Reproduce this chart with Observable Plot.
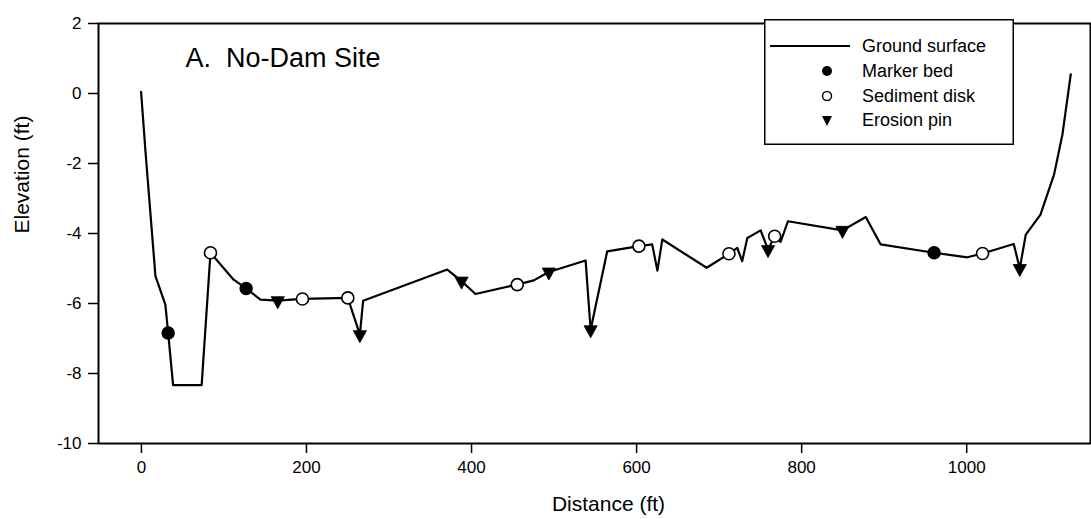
<!DOCTYPE html>
<html>
<head>
<meta charset="utf-8">
<script src="https://cdn.jsdelivr.net/npm/d3@7"></script>
<script src="https://cdn.jsdelivr.net/npm/@observablehq/plot@0.6"></script>
<style>
  html, body { margin: 0; padding: 0; background: #fff; }
  #wrap { position: relative; width: 1091px; height: 519px; font-family: "Liberation Sans", Arial, Helvetica, sans-serif; }
  #legend { position: absolute; left: 764px; top: 19px; }
</style>
</head>
<body>
<div id="wrap"></div>
<script>
// Ground surface profile (distance ft, elevation ft)
const groundDistance = [-0.4, 4.9, 17, 29, 32.4, 38.4, 73, 83.7, 111.7, 126.9, 144.2, 165.2, 195.1, 250.1, 264.7, 268.7,
  370.6, 387.9, 404.8, 455.4, 475.4, 493.7, 538.2, 544.3, 564.4, 602.8, 618.9, 625.2, 631.2, 684.9, 711.9, 722, 727.9, 734.2,
  750.3, 759.3, 767.3, 774.5, 783.4, 849.5, 877.7, 895.6, 960.5, 1000.9, 1019.2, 1057, 1064.3, 1071.6, 1089.4, 1105.9, 1116, 1126.1];
const groundElevation = [0.05, -1.65, -5.22, -6.03, -6.84, -8.33, -8.33, -4.55, -5.32, -5.57, -5.89, -5.92, -5.87, -5.84, -6.89, -5.92,
  -5.03, -5.36, -5.73, -5.46, -5.34, -5.1, -4.77, -6.75, -4.51, -4.36, -4.31, -5.06, -4.17, -4.98, -4.58, -4.41, -4.79, -4.13,
  -3.91, -4.46, -4.08, -4.24, -3.65, -3.91, -3.53, -4.31, -4.55, -4.68, -4.57, -4.3, -5.0, -4.03, -3.46, -2.31, -1.17, 0.55];

const markerBedDistance = [32.4, 126.9, 960.5];
const markerBedElevation = [-6.84, -5.57, -4.55];

const sedimentDiskDistance = [83.7, 195.1, 250.1, 455.4, 602.8, 711.9, 767.3, 1019.2];
const sedimentDiskElevation = [-4.55, -5.87, -5.84, -5.46, -4.36, -4.58, -4.08, -4.57];

const erosionPinDistance = [165.2, 264.7, 387.9, 493.7, 544.3, 759.3, 849.5, 1064.3];
const erosionPinElevation = [-5.92, -6.89, -5.36, -5.1, -6.75, -4.46, -3.91, -5.0];

const xTicks = [0, 200, 400, 600, 800, 1000];
const yTicks = [-10, -8, -6, -4, -2, 0, 2];

const titleText = "A.  No-Dam Site";
const xLabel = "Distance (ft)";
const yLabel = "Elevation (ft)";
const legendLabels = ["Ground surface", "Marker bed", "Sediment disk", "Erosion pin"];

const toRows = (xs, ys) => xs.map((d, i) => ({distance: d, elevation: ys[i]}));
const ground = toRows(groundDistance, groundElevation);
const markerBed = toRows(markerBedDistance, markerBedElevation);
const sedimentDisk = toRows(sedimentDiskDistance, sedimentDiskElevation);
const erosionPin = toRows(erosionPinDistance, erosionPinElevation);

// downward triangle, centred on its centroid
const triangleDown = {
  draw(ctx, size) {
    const r = Math.sqrt(size / Math.PI);
    const w = r * 1.1, h = r * 2;
    ctx.moveTo(-w, -h / 3);
    ctx.lineTo(w, -h / 3);
    ctx.lineTo(0, 2 * h / 3);
    ctx.closePath();
  }
};

const font = "'Liberation Sans', Arial, Helvetica, sans-serif";

const chart = Plot.plot({
  width: 1091,
  height: 519,
  marginLeft: 98,
  marginRight: 1,
  marginTop: 23,
  marginBottom: 76,
  style: {fontFamily: font, fontSize: "17px", color: "black", background: "white"},
  x: {domain: [-52, 1150]},
  y: {domain: [-10, 2]},
  marks: [
    Plot.axisY({ticks: yTicks, tickSize: 10, tickPadding: 7, tickFormat: d => String(d), label: null, strokeWidth: 1.5, fontSize: 17}),
    Plot.axisX({ticks: xTicks, tickSize: 10, tickPadding: 7, tickFormat: d => String(d), label: null, strokeWidth: 1.5, fontSize: 17}),
    Plot.frame({stroke: "black", strokeWidth: 2}),
    Plot.line(ground, {x: "distance", y: "elevation", stroke: "black", strokeWidth: 2.2}),
    Plot.dot(markerBed, {x: "distance", y: "elevation", r: 6, fill: "black", stroke: "black"}),
    Plot.dot(sedimentDisk, {x: "distance", y: "elevation", r: 6, fill: "white", stroke: "black", strokeWidth: 1.6}),
    Plot.dot(erosionPin, {x: "distance", y: "elevation", r: 6, symbol: triangleDown, fill: "black", stroke: "black", strokeWidth: 0.8}),
    Plot.text([titleText], {frameAnchor: "top-left", text: d => d, dx: 87, dy: 35, textAnchor: "start", lineAnchor: "middle", fontSize: 27, fill: "black"}),
    Plot.text([xLabel], {frameAnchor: "bottom", text: d => d, dx: 14, dy: 61, lineAnchor: "middle", fontSize: 21, fill: "black"}),
    Plot.text([yLabel], {frameAnchor: "left", text: d => d, dx: -76, rotate: -90, lineAnchor: "middle", fontSize: 21, fill: "black"})
  ]
});

const wrap = document.getElementById("wrap");
wrap.appendChild(chart);

// legend box inside plot area
const lw = 250, lh = 126;
const legend = d3.create("svg")
  .attr("id", "legend")
  .attr("width", lw)
  .attr("height", lh)
  .style("font-family", font);
legend.append("rect").attr("x", 0.75).attr("y", 0.75).attr("width", lw - 1.5).attr("height", lh - 1.5)
  .attr("fill", "white").attr("stroke", "black").attr("stroke-width", 1.5);
const rowY = [27, 52, 77, 101];
const symX = 63, textX = 98;
legend.append("line").attr("x1", 6).attr("x2", 86).attr("y1", rowY[0]).attr("y2", rowY[0])
  .attr("stroke", "black").attr("stroke-width", 2);
legend.append("circle").attr("cx", symX).attr("cy", rowY[1]).attr("r", 5).attr("fill", "black");
legend.append("circle").attr("cx", symX).attr("cy", rowY[2]).attr("r", 4.5).attr("fill", "white")
  .attr("stroke", "black").attr("stroke-width", 1.5);
legend.append("path").attr("d", `M${symX - 5},${rowY[3] - 4}L${symX + 5},${rowY[3] - 4}L${symX},${rowY[3] + 6}Z`).attr("fill", "black");
legend.selectAll("text.lab").data(legendLabels).join("text")
  .attr("class", "lab")
  .attr("x", textX).attr("y", (d, i) => rowY[i]).attr("dy", "0.35em")
  .attr("font-size", 18).attr("fill", "black")
  .text(d => d);
wrap.appendChild(legend.node());
</script>
</body>
</html>
